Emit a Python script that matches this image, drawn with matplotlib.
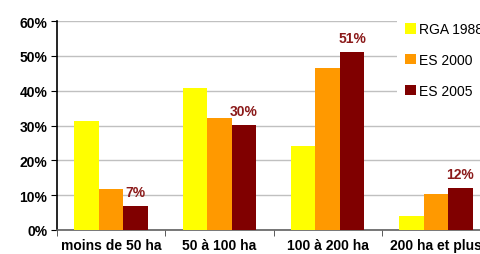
import numpy as np
import matplotlib.pyplot as plt
from matplotlib.ticker import FixedLocator, FuncFormatter

categories = ['moins de 50 ha', '50 à 100 ha', '100 à 200 ha', '200 ha et plus']
series = ['RGA 1988', 'ES 2000', 'ES 2005']
rga_1988 = [31.2, 40.7, 24.1, 4.0]
es_2000 = [11.8, 32.2, 46.5, 10.3]
es_2005 = [7.0, 30.1, 51.1, 12.1]
es_2005_labels = ['7%', '30%', '51%', '12%']
colors = ['#FFFF00', '#FF9900', '#800000']

plt.rcParams['font.family'] = ['Liberation Sans', 'DejaVu Sans']

fig = plt.figure(figsize=(4.8, 2.55), dpi=100)
ax = fig.add_axes([57 / 480, 24 / 255, 433 / 480, 209 / 255])

x = np.arange(len(categories))
w = 0.227
for i, (vals, name) in enumerate(zip([rga_1988, es_2000, es_2005], series)):
    ax.bar(x + (i - 1) * w, vals, w, color=colors[i], label=name, zorder=3)

for xi, v, lab in zip(x, es_2005, es_2005_labels):
    ax.annotate(lab, (xi + w, v), xytext=(0, 5), textcoords='offset points',
                ha='center', va='bottom', color='#8B1A1A', fontsize=10,
                fontweight='bold')

ax.set_xlim(-0.5, 3.5)
ax.set_ylim(0, 60)
ax.set_yticks(range(0, 61, 10))
ax.yaxis.set_major_formatter(FuncFormatter(lambda v, p: f'{v:.0f}%'))
ax.grid(axis='y', color='#C0C0C0', linewidth=1, zorder=0)

ax.set_xticks(x)
ax.set_xticklabels(categories, fontweight='bold', fontsize=10)
ax.xaxis.set_minor_locator(FixedLocator([-0.5, 0.5, 1.5, 2.5, 3.5]))
ax.tick_params(axis='x', which='major', length=0, pad=6)
ax.tick_params(axis='x', which='minor', length=4, direction='out', color='#404040')
ax.tick_params(axis='y', length=4, direction='out', pad=3)
for t in ax.get_yticklabels():
    t.set_fontweight('bold')
    t.set_fontsize(10)

for s in ['top', 'right']:
    ax.spines[s].set_visible(False)
ax.spines['left'].set_linewidth(1.2)
ax.spines['bottom'].set_color('#606060')
ax.spines['bottom'].set_linewidth(1.2)

leg = fig.legend(loc='upper left', bbox_to_anchor=(397 / 480, 1 - 15 / 255),
                 frameon=True, fancybox=False, edgecolor='white', facecolor='white',
                 framealpha=1, fontsize=10, handlelength=0.75, handleheight=0.75,
                 handletextpad=0.25, labelspacing=1.2, borderpad=0.6,
                 borderaxespad=0)
leg.get_frame().set_linewidth(0)

fig.savefig('out.png', dpi=100)
